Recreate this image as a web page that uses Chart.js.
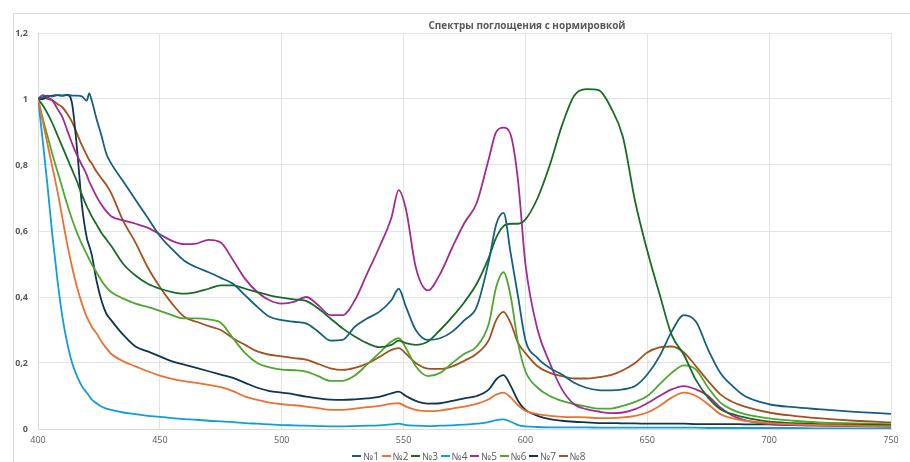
<!DOCTYPE html>
<html><head><meta charset="utf-8">
<script src="https://cdn.jsdelivr.net/npm/chart.js@4"></script>
<style>
html,body{margin:0;padding:0;background:#fff}
#wrap{width:910px;height:462px;position:relative;overflow:hidden}
#legend{position:absolute;left:352px;top:449px;display:flex;align-items:center;font:10px 'Open Sans','Liberation Sans',sans-serif;color:#595959;white-space:nowrap;line-height:14px}
#legend .it{display:flex;align-items:center;margin-right:2.6px}
#legend .ln{display:inline-block;width:9px;height:2px;margin-right:2px}
</style>
</head><body><div id="wrap"><canvas id="c" width="910" height="462"></canvas><div id="legend"></div></div>
<script>
const chartTitle = 'Спектры поглощения с нормировкой';
const seriesNames = ['№1','№2','№3','№4','№5','№6','№7','№8'];
const seriesColors = ['#156082','#E97132','#196B24','#0F9ED5','#A02B93','#4EA72E','#0F3550','#A5501E'];
const xTicks = [400,450,500,550,600,650,700,750];
const yTicks = [0,0.2,0.4,0.6,0.8,1,1.2];

const wavelengths = [400,402,404,406,408,410,412,414,416,418,420,421,422,424,426,428,430,435,440,445,450,455,460,465,470,475,480,485,490,495,500,505,510,515,520,525,530,535,540,545,548,551,555,560,565,570,575,580,585,588,591,594,597,600,605,610,615,620,625,630,635,640,645,650,655,660,665,670,675,680,685,690,700,710,720,735,750];

const s1 = [1.0,1.005,1.01,1.008,1.012,1.01,1.013,1.01,1.01,1.008,0.995,1.017,0.997,0.94,0.89,0.835,0.805,0.75,0.695,0.64,0.585,0.545,0.51,0.49,0.475,0.458,0.44,0.405,0.37,0.34,0.33,0.325,0.32,0.295,0.268,0.27,0.31,0.335,0.355,0.39,0.425,0.37,0.3,0.27,0.275,0.295,0.33,0.37,0.51,0.62,0.655,0.53,0.4,0.27,0.215,0.185,0.165,0.14,0.125,0.118,0.117,0.12,0.13,0.165,0.22,0.295,0.345,0.325,0.24,0.17,0.13,0.1,0.075,0.066,0.06,0.052,0.046];
const s2 = [1.0,0.93,0.86,0.79,0.72,0.64,0.56,0.49,0.43,0.38,0.34,0.325,0.31,0.29,0.265,0.245,0.228,0.205,0.19,0.175,0.162,0.152,0.145,0.14,0.134,0.127,0.115,0.098,0.088,0.08,0.075,0.072,0.068,0.063,0.058,0.058,0.062,0.066,0.07,0.077,0.078,0.068,0.058,0.054,0.056,0.062,0.068,0.076,0.09,0.104,0.11,0.095,0.072,0.055,0.045,0.04,0.037,0.036,0.035,0.033,0.033,0.035,0.04,0.05,0.07,0.095,0.11,0.1,0.075,0.045,0.032,0.025,0.018,0.014,0.012,0.01,0.008];
const s3 = [1.0,0.98,0.955,0.925,0.89,0.855,0.82,0.785,0.75,0.71,0.675,0.66,0.645,0.62,0.595,0.575,0.555,0.5,0.465,0.44,0.425,0.415,0.41,0.415,0.425,0.435,0.435,0.425,0.415,0.405,0.398,0.393,0.388,0.365,0.335,0.305,0.28,0.26,0.248,0.255,0.268,0.26,0.255,0.265,0.3,0.34,0.385,0.44,0.52,0.58,0.615,0.622,0.622,0.635,0.7,0.8,0.92,1.01,1.03,1.027,0.975,0.885,0.69,0.54,0.41,0.285,0.225,0.148,0.095,0.06,0.045,0.035,0.022,0.018,0.015,0.013,0.012];
const s4 = [1.0,0.87,0.73,0.58,0.45,0.34,0.26,0.2,0.16,0.13,0.11,0.1,0.09,0.078,0.068,0.062,0.058,0.05,0.045,0.04,0.037,0.033,0.03,0.028,0.025,0.023,0.021,0.018,0.016,0.014,0.012,0.011,0.01,0.009,0.008,0.008,0.009,0.01,0.011,0.014,0.016,0.012,0.01,0.009,0.01,0.011,0.013,0.016,0.021,0.027,0.029,0.022,0.012,0.008,0.006,0.005,0.005,0.005,0.005,0.004,0.004,0.004,0.004,0.004,0.004,0.004,0.004,0.004,0.003,0.003,0.003,0.003,0.003,0.003,0.002,0.002,0.002];
const s5 = [1.0,1.012,1.005,0.995,0.97,0.945,0.905,0.865,0.83,0.8,0.77,0.75,0.735,0.705,0.68,0.66,0.645,0.632,0.622,0.61,0.59,0.57,0.56,0.562,0.573,0.565,0.512,0.455,0.415,0.39,0.38,0.385,0.4,0.375,0.345,0.345,0.39,0.47,0.55,0.64,0.724,0.665,0.49,0.42,0.47,0.55,0.625,0.685,0.82,0.9,0.913,0.89,0.75,0.5,0.3,0.2,0.12,0.075,0.06,0.053,0.048,0.05,0.06,0.078,0.1,0.12,0.13,0.12,0.1,0.065,0.04,0.027,0.015,0.012,0.01,0.009,0.008];
const s6 = [1.0,0.94,0.885,0.83,0.78,0.73,0.68,0.635,0.595,0.56,0.53,0.515,0.5,0.475,0.45,0.43,0.415,0.395,0.38,0.37,0.358,0.345,0.335,0.335,0.332,0.322,0.275,0.23,0.2,0.187,0.18,0.178,0.174,0.16,0.146,0.146,0.162,0.195,0.23,0.265,0.275,0.245,0.19,0.16,0.17,0.2,0.228,0.25,0.32,0.43,0.475,0.4,0.26,0.175,0.125,0.1,0.085,0.075,0.068,0.062,0.062,0.07,0.082,0.1,0.135,0.17,0.193,0.18,0.125,0.08,0.058,0.045,0.032,0.025,0.02,0.017,0.015];
const s7 = [1.0,1.0,1.008,1.01,1.012,1.01,1.012,0.985,0.85,0.68,0.58,0.555,0.53,0.45,0.39,0.35,0.33,0.285,0.25,0.235,0.22,0.205,0.195,0.185,0.175,0.165,0.155,0.14,0.125,0.115,0.11,0.105,0.098,0.093,0.089,0.088,0.09,0.093,0.097,0.108,0.113,0.1,0.085,0.077,0.078,0.085,0.093,0.1,0.12,0.15,0.163,0.13,0.085,0.058,0.04,0.03,0.025,0.022,0.02,0.018,0.018,0.017,0.017,0.016,0.016,0.016,0.016,0.015,0.015,0.015,0.015,0.014,0.014,0.012,0.011,0.009,0.007];
const s8 = [1.0,1.005,1.0,0.995,0.985,0.975,0.955,0.93,0.895,0.86,0.83,0.815,0.805,0.78,0.76,0.74,0.715,0.63,0.565,0.49,0.43,0.38,0.34,0.325,0.312,0.3,0.275,0.255,0.235,0.225,0.22,0.215,0.21,0.197,0.184,0.179,0.185,0.198,0.218,0.24,0.245,0.228,0.2,0.183,0.182,0.19,0.207,0.228,0.27,0.33,0.355,0.32,0.26,0.23,0.19,0.17,0.16,0.153,0.153,0.157,0.163,0.178,0.2,0.232,0.247,0.25,0.232,0.19,0.145,0.105,0.082,0.068,0.05,0.04,0.033,0.025,0.02];

const seriesValues = [s1,s2,s3,s4,s5,s6,s7,s8];

const fontFamily = "'Open Sans', 'Liberation Sans', sans-serif";
const textColor = '#595959';
const gridColor = '#e3e3e3';

// HTML legend built from the series names and colours
const legendEl = document.getElementById('legend');
seriesNames.forEach((name, k) => {
  const it = document.createElement('span');
  it.className = 'it';
  const ln = document.createElement('span');
  ln.className = 'ln';
  ln.style.background = seriesColors[k];
  const tx = document.createElement('span');
  tx.textContent = name;
  it.appendChild(ln); it.appendChild(tx);
  legendEl.appendChild(it);
});

const frame = {
  id: 'frame',
  beforeDraw(chart) {
    const ctx = chart.ctx;
    ctx.save();
    ctx.strokeStyle = '#d9d9d9';
    ctx.lineWidth = 1;
    ctx.beginPath();
    ctx.moveTo(13.5, 462); ctx.lineTo(13.5, 13.5); ctx.lineTo(910, 13.5);
    ctx.stroke();
    ctx.fillStyle = textColor;
    ctx.font = "bold 10px " + fontFamily;
    ctx.textAlign = 'center';
    ctx.textBaseline = 'middle';
    ctx.fillText(chartTitle, 527, 26);
    ctx.restore();
  }
};

const fmt = v => (Math.round(v * 10) / 10).toString().replace('.', ',');

new Chart(document.getElementById('c'), {
  type: 'line',
  data: {
    datasets: seriesNames.map((name, k) => ({
      label: name,
      data: wavelengths.map((w, i) => ({x: w, y: seriesValues[k][i]})),
      borderColor: seriesColors[k],
      backgroundColor: seriesColors[k],
      borderWidth: 1.8,
      pointRadius: 0,
      cubicInterpolationMode: 'monotone',
      fill: false
    }))
  },
  options: {
    responsive: false,
    animation: false,
    layout: { padding: { top: 33, right: 19, left: 0, bottom: 0 } },
    plugins: {
      tooltip: { enabled: false },
      title: { display: false },
      legend: { display: false }
    },
    scales: {
      x: {
        type: 'linear',
        min: 400, max: 750,
        afterFit: s => { s.height = 33; },
        afterBuildTicks: s => { s.ticks = xTicks.map(v => ({value: v})); },
        grid: { color: gridColor, drawTicks: false },
        border: { color: '#d9d9d9' },
        ticks: { color: textColor, font: { family: fontFamily, size: 9 }, padding: 6, maxRotation: 0 }
      },
      y: {
        min: 0, max: 1.2,
        afterFit: s => { s.width = 38; },
        afterBuildTicks: s => { s.ticks = yTicks.map(v => ({value: v})); },
        grid: { color: gridColor, drawTicks: false },
        border: { color: '#d9d9d9' },
        ticks: { color: textColor, font: { family: fontFamily, size: 9, weight: 'bold' }, padding: 10, callback: v => fmt(v) }
      }
    }
  },
  plugins: [frame]
});
</script></body></html>
